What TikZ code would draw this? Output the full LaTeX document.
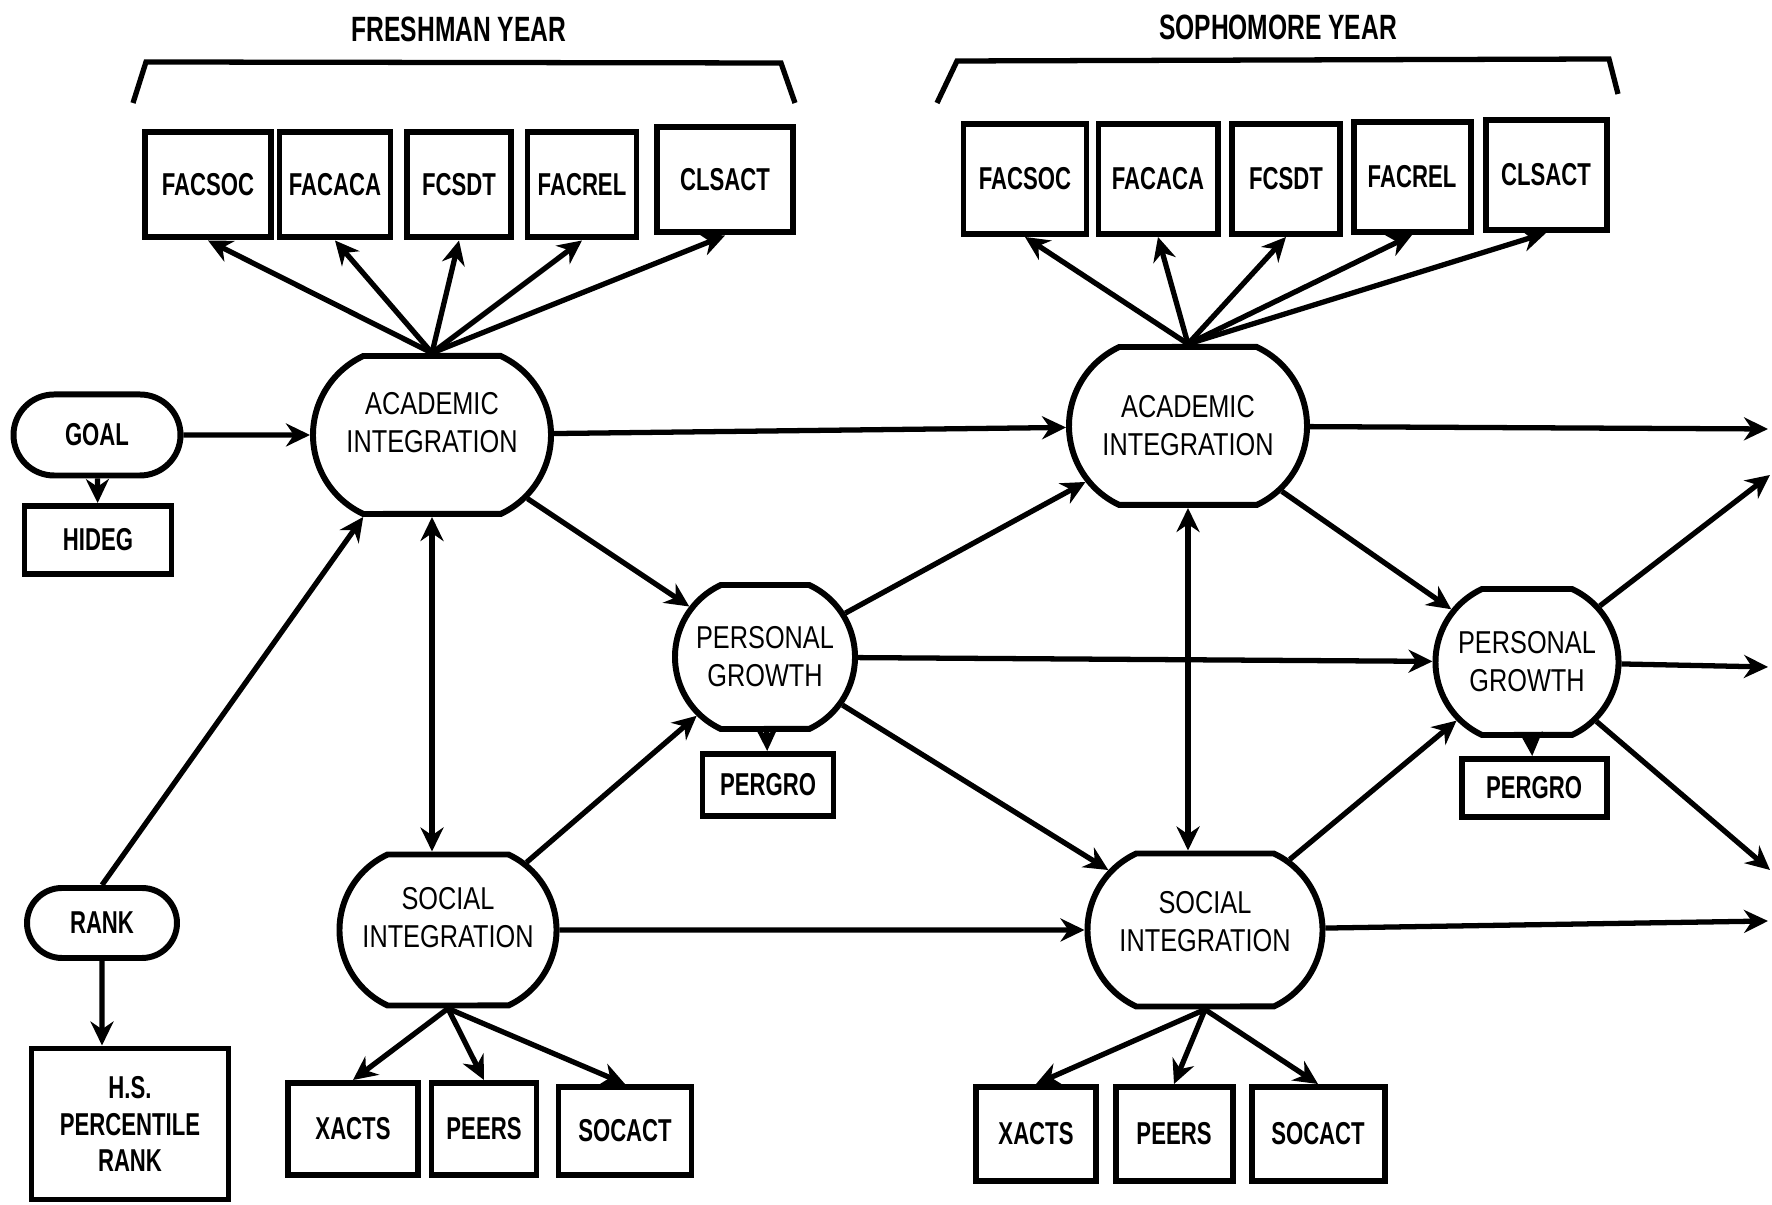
\documentclass[tikz,border=0pt]{standalone}
\usepackage{fontspec}
\newfontfamily\boxfont{Liberation Sans}[FakeStretch=0.7]
\newfontfamily\ovalfont{Liberation Sans}[FakeStretch=0.8]
\usepackage{tikz}
\usetikzlibrary{arrows.meta,shapes.misc}

\begin{document}
\begin{tikzpicture}[>={Stealth[length=2.4mm,width=2.3mm]}, line width=1.5pt,
  box/.style={draw, line width=1.7pt, inner sep=0pt, align=center,
    font=\boxfont\bfseries\fontsize{9}{10.5}\selectfont},
  oval/.style={draw, line width=1.7pt, rounded rectangle, rounded rectangle arc length=130,
    inner sep=0pt, align=center, font=\ovalfont\fontsize{9}{10.8}\selectfont},
  pill/.style={draw, line width=1.7pt, rounded rectangle, inner sep=0pt,
    font=\boxfont\bfseries\fontsize{9}{10.5}\selectfont},
  title/.style={font=\boxfont\bfseries\fontsize{10}{12}\selectfont}]

\useasboundingbox (0,0) rectangle (17.72,-12.05);

% Titoli e parentesi
\node[title] (fresh) at (4.59,-0.29) {FRESHMAN YEAR};
\node[title] (soph) at (12.78,-0.27) {SOPHOMORE YEAR};
\draw (1.33,-1.03) -- (1.46,-0.62) -- (7.81,-0.63) -- (7.95,-1.03);
\draw (9.37,-1.03) -- (9.57,-0.61) -- (16.09,-0.59) -- (16.18,-0.94);

% Primo anno: indicatori accademici
\node[box, minimum width=1.26cm, minimum height=1.05cm] (facsoc1) at (2.08,-1.85) {FACSOC};
\node[box, minimum width=1.11cm, minimum height=1.05cm] (facaca1) at (3.35,-1.85) {FACACA};
\node[box, minimum width=1.04cm, minimum height=1.05cm] (fcsdt1) at (4.59,-1.85) {FCSDT};
\node[box, minimum width=1.09cm, minimum height=1.05cm] (facrel1) at (5.82,-1.85) {FACREL};
\node[box, minimum width=1.36cm, minimum height=1.05cm] (clsact1) at (7.25,-1.80) {CLSACT};

% Secondo anno: indicatori accademici
\node[box, minimum width=1.23cm, minimum height=1.10cm] (facsoc2) at (10.25,-1.79) {FACSOC};
\node[box, minimum width=1.19cm, minimum height=1.10cm] (facaca2) at (11.58,-1.79) {FACACA};
\node[box, minimum width=1.08cm, minimum height=1.10cm] (fcsdt2) at (12.86,-1.79) {FCSDT};
\node[box, minimum width=1.17cm, minimum height=1.10cm] (facrel2) at (14.12,-1.77) {FACREL};
\node[box, minimum width=1.21cm, minimum height=1.10cm] (clsact2) at (15.46,-1.75) {CLSACT};

% Variabili di ingresso
\node[pill, minimum width=1.67cm, minimum height=0.81cm] (goal) at (0.97,-4.35) {GOAL};
\node[box, minimum width=1.47cm, minimum height=0.68cm] (hideg) at (0.98,-5.40) {HIDEG};
\node[pill, minimum width=1.50cm, minimum height=0.70cm] (rank) at (1.02,-9.23) {RANK};
\node[box, minimum width=1.97cm, minimum height=1.51cm] (hsrank) at (1.30,-11.24) {H.S.\\PERCENTILE\\RANK};

% Costrutti
\node[oval, minimum width=2.38cm, minimum height=1.58cm] (acad1) at (4.32,-4.35) {ACADEMIC\\INTEGRATION\\[-0.13cm]};
\node[oval, minimum width=2.17cm, minimum height=1.51cm] (soc1) at (4.48,-9.30) {SOCIAL\\INTEGRATION\\[-0.13cm]};
\node[oval, minimum width=1.80cm, minimum height=1.44cm] (pers1) at (7.65,-6.57) {PERSONAL\\GROWTH};
\node[box, minimum width=1.31cm, minimum height=0.62cm] (pergro1) at (7.68,-7.85) {PERGRO};
\node[oval, minimum width=2.38cm, minimum height=1.58cm] (acad2) at (11.88,-4.26) {ACADEMIC\\INTEGRATION};
\node[oval, minimum width=2.35cm, minimum height=1.53cm] (soc2) at (12.05,-9.30) {SOCIAL\\INTEGRATION\\[-0.2cm]};
\node[oval, minimum width=1.83cm, minimum height=1.46cm] (pers2) at (15.27,-6.62) {PERSONAL\\GROWTH};
\node[box, minimum width=1.45cm, minimum height=0.58cm] (pergro2) at (15.34,-7.88) {PERGRO};

% Indicatori sociali
\node[box, minimum width=1.30cm, minimum height=0.92cm] (xacts1) at (3.53,-11.29) {XACTS};
\node[box, minimum width=1.05cm, minimum height=0.92cm] (peers1) at (4.84,-11.29) {PEERS};
\node[box, minimum width=1.33cm, minimum height=0.88cm] (socact1) at (6.25,-11.31) {SOCACT};
\node[box, minimum width=1.20cm, minimum height=0.94cm] (xacts2) at (10.36,-11.34) {XACTS};
\node[box, minimum width=1.17cm, minimum height=0.94cm] (peers2) at (11.74,-11.34) {PEERS};
\node[box, minimum width=1.33cm, minimum height=0.94cm] (socact2) at (13.18,-11.34) {SOCACT};

% Uscite verso destra
\coordinate (outA) at (17.68,-4.29);
\coordinate (outPup) at (17.70,-4.75);
\coordinate (outP) at (17.68,-6.67);
\coordinate (outPdn) at (17.70,-8.70);
\coordinate (outS) at (17.68,-9.21);

% Frecce
\draw[->] (goal) -- (acad1);
\draw[->] (goal) -- (hideg);
\draw[->] (rank) -- (rank |- hsrank.north);
\draw[->] (rank.north) -- (acad1.-130);
\draw[<->] (acad1.south) -- (acad1.south |- soc1.north);
\draw[->] (acad1.north) -- (facsoc1.south);
\draw[->] (acad1.north) -- (facaca1.south);
\draw[->] (acad1.north) -- (fcsdt1.south);
\draw[->] (acad1.north) -- (facrel1.south);
\draw[->] (acad1.north) -- (clsact1.south);
\draw[->] (acad1) -- (acad2);
\draw[->] (acad1) -- (pers1);
\draw[->] (soc1) -- (pers1);
\draw[->] (soc1) -- (soc2);
\draw[->] (soc1.south) -- (xacts1.north);
\draw[->] (soc1.south) -- (peers1.north);
\draw[->] (soc1.south) -- (socact1.north);
\draw[->] (pers1) -- (pergro1);
\draw[->] (pers1) -- (acad2);
\draw[->] (pers1) -- (pers2);
\draw[->] (pers1) -- (soc2);
\draw[<->] (acad2.south) -- (acad2.south |- soc2.north);
\draw[->] (acad2.north) -- (facsoc2.south);
\draw[->] (acad2.north) -- (facaca2.south);
\draw[->] (acad2.north) -- (fcsdt2.south);
\draw[->] (acad2.north) -- (facrel2.south);
\draw[->] (acad2.north) -- (clsact2.south);
\draw[->] (acad2) -- (pers2);
\draw[->] (acad2) -- (outA);
\draw[->] (soc2) -- (pers2);
\draw[->] (soc2) -- (outS);
\draw[->] (soc2.south) -- (xacts2.north);
\draw[->] (soc2.south) -- (peers2.north);
\draw[->] (soc2.south) -- (socact2.north);
\draw[->] (pers2) -- (pergro2);
\draw[->] (pers2) -- (outPup);
\draw[->] (pers2) -- (outP);
\draw[->] (pers2) -- (outPdn);

\end{tikzpicture}
\end{document}
